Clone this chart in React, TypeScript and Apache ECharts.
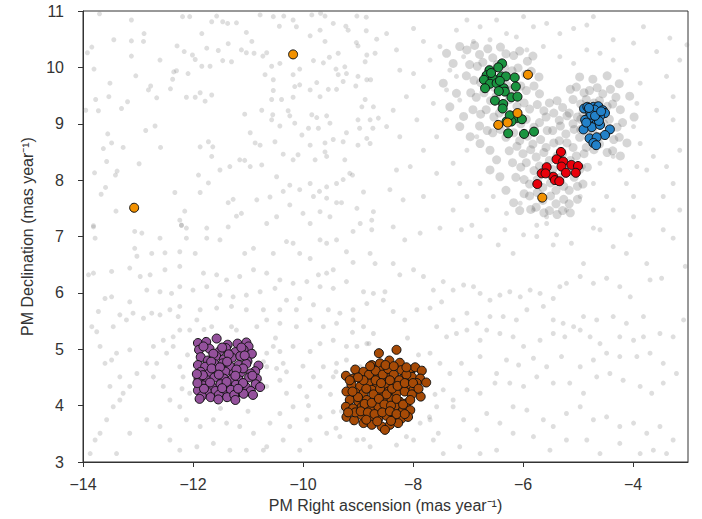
import React, { useEffect, useRef } from "react";
import * as echarts from "echarts";

// ---------- axis ticks ----------
const xTicks = [-14, -12, -10, -8, -6, -4];
const yTicks = [3, 4, 5, 6, 7, 8, 9, 10, 11];

// ---------- cluster members ----------
const purple: number[][] = [
  [-11.91, 5.11], [-11.76, 5.13], [-11.57, 5.19], [-11.37, 5.08], [-11.19, 5.10], [-11.03, 5.12], [-10.99, 5.05],
  [-11.89, 4.99], [-11.70, 5.01], [-11.52, 4.96], [-11.40, 5.02], [-11.23, 4.95], [-11.08, 4.99], [-10.93, 4.92],
  [-11.86, 4.86], [-11.73, 4.80], [-11.58, 4.88], [-11.44, 4.82], [-11.29, 4.85], [-11.14, 4.88], [-11.01, 4.79], [-10.81, 4.71],
  [-11.91, 4.72], [-11.78, 4.69], [-11.61, 4.74], [-11.46, 4.75], [-11.32, 4.69], [-11.17, 4.72], [-11.03, 4.74], [-10.87, 4.61],
  [-11.86, 4.60], [-11.71, 4.57], [-11.56, 4.62], [-11.41, 4.60], [-11.26, 4.57], [-11.13, 4.59], [-10.95, 4.57],
  [-11.90, 4.48], [-11.74, 4.45], [-11.61, 4.50], [-11.44, 4.48], [-11.29, 4.47], [-11.16, 4.45], [-10.98, 4.50], [-10.84, 4.48],
  [-11.82, 4.36], [-11.65, 4.33], [-11.50, 4.38], [-11.35, 4.33], [-11.22, 4.37], [-11.04, 4.33], [-10.86, 4.38],
  [-11.91, 4.27], [-11.74, 4.24], [-11.59, 4.26], [-11.44, 4.24], [-11.31, 4.28], [-11.14, 4.24], [-10.95, 4.26], [-10.78, 4.33],
  [-11.84, 4.17], [-11.68, 4.15], [-11.53, 4.19], [-11.38, 4.15], [-11.25, 4.19], [-11.08, 4.21], [-10.91, 4.19],
  [-11.88, 4.12], [-11.54, 4.11], [-11.23, 4.10],
  [-11.81, 5.05], [-11.47, 5.03], [-11.12, 5.03], [-11.63, 4.92], [-11.35, 4.91], [-11.06, 4.89], [-11.67, 4.78],
  [-11.38, 4.78], [-11.09, 4.66], [-11.66, 4.66], [-11.51, 4.68], [-11.21, 4.64], [-11.82, 4.54], [-11.53, 4.55],
  [-11.23, 4.53], [-10.92, 4.53], [-11.69, 4.41], [-11.39, 4.42], [-11.09, 4.40], [-11.80, 4.30], [-11.47, 4.31],
  [-11.18, 4.30], [-11.93, 4.56], [-11.92, 4.40],
];

const brown: number[][] = [
  [-8.62, 4.93], [-8.30, 4.99], [-8.75, 4.72], [-8.60, 4.75], [-8.43, 4.80], [-8.24, 4.76],
  [-9.05, 4.64], [-8.90, 4.60], [-8.72, 4.57], [-8.57, 4.62], [-8.39, 4.60], [-8.21, 4.63], [-8.05, 4.60], [-7.96, 4.68], [-7.84, 4.62],
  [-9.22, 4.53], [-9.09, 4.48], [-8.93, 4.45], [-8.78, 4.48], [-8.63, 4.48], [-8.48, 4.51], [-8.33, 4.50], [-8.18, 4.48], [-8.02, 4.51], [-7.87, 4.48], [-7.76, 4.41],
  [-9.12, 4.37], [-8.96, 4.34], [-8.81, 4.40], [-8.66, 4.34], [-8.51, 4.37], [-8.36, 4.40], [-8.21, 4.35], [-8.05, 4.37], [-7.93, 4.40],
  [-9.21, 4.25], [-9.05, 4.23], [-8.90, 4.22], [-8.75, 4.28], [-8.60, 4.23], [-8.45, 4.25], [-8.30, 4.22], [-8.15, 4.25], [-7.99, 4.28], [-7.86, 4.16],
  [-9.15, 4.10], [-8.99, 4.07], [-8.84, 4.10], [-8.69, 4.11], [-8.54, 4.09], [-8.39, 4.11], [-8.24, 4.07], [-8.12, 4.04],
  [-9.22, 3.98], [-9.09, 3.95], [-8.93, 3.98], [-8.78, 3.95], [-8.63, 3.98], [-8.48, 3.95], [-8.33, 3.98], [-8.18, 3.92], [-8.05, 3.92],
  [-9.21, 3.80], [-9.07, 3.74], [-8.93, 3.83], [-8.78, 3.80], [-8.63, 3.77], [-8.48, 3.82], [-8.33, 3.77], [-8.21, 3.77], [-8.09, 3.80],
  [-8.90, 3.69], [-8.75, 3.66], [-8.57, 3.63], [-8.42, 3.66], [-8.27, 3.69], [-8.51, 3.57],
  [-8.80, 4.55], [-8.68, 4.62], [-8.55, 4.55], [-8.45, 4.65], [-8.35, 4.55], [-8.25, 4.45], [-8.12, 4.55], [-8.85, 4.30],
  [-8.72, 4.20], [-8.60, 4.30], [-8.48, 4.20], [-8.38, 4.30], [-8.28, 4.35], [-8.15, 4.40], [-8.02, 4.20], [-9.00, 4.15],
  [-8.88, 4.03], [-8.75, 4.05], [-8.62, 4.12], [-8.52, 4.02], [-8.40, 4.00], [-8.30, 4.12], [-8.18, 4.02], [-9.10, 4.25],
  [-9.05, 3.88], [-8.95, 3.90], [-8.82, 3.88], [-8.70, 3.85], [-8.56, 3.88], [-8.42, 3.90], [-8.30, 3.85], [-8.15, 3.85],
  [-8.68, 4.45], [-8.58, 4.40], [-8.42, 4.45], [-8.90, 4.45], [-9.00, 4.50], [-8.78, 4.70], [-8.50, 4.72], [-8.35, 4.70],
  [-8.12, 4.68], [-8.00, 4.40], [-7.90, 4.30], [-8.65, 3.72], [-8.40, 3.73], [-8.85, 3.75], [-9.15, 4.45], [-9.18, 3.88], [-8.05, 4.10],
];

const green: number[][] = [
  [-6.38, 10.07], [-6.45, 10.00], [-6.61, 9.95], [-6.66, 9.86], [-6.71, 9.78], [-6.55, 9.81], [-6.39, 9.84],
  [-6.31, 9.84], [-6.15, 9.82], [-6.60, 9.71], [-6.69, 9.63], [-6.48, 9.72], [-6.35, 9.63], [-6.33, 9.57],
  [-6.13, 9.66], [-6.21, 9.47], [-6.10, 9.48], [-6.51, 9.41], [-6.36, 9.35], [-6.37, 9.27], [-6.21, 9.13],
  [-6.12, 9.10], [-6.02, 9.08], [-6.30, 9.04], [-6.21, 9.04], [-6.27, 8.83], [-5.98, 8.82], [-5.80, 8.86],
  [-6.58, 9.90], [-6.42, 9.76], [-6.44, 9.58], [-6.24, 9.15],
];

const blue: number[][] = [
  [-4.89, 9.27], [-4.83, 9.30], [-4.72, 9.30], [-4.63, 9.31], [-4.55, 9.24], [-4.51, 9.19], [-4.78, 9.21],
  [-4.66, 9.21], [-4.60, 9.13], [-4.81, 9.10], [-4.72, 9.10], [-4.87, 9.07], [-4.66, 9.01], [-4.84, 8.98],
  [-4.75, 8.94], [-4.90, 8.90], [-4.60, 8.98], [-4.42, 8.90], [-4.51, 8.80], [-4.79, 8.74], [-4.66, 8.76],
  [-4.72, 8.66], [-4.67, 8.62], [-4.70, 9.25], [-4.76, 9.16], [-4.62, 9.05], [-4.85, 9.02], [-4.69, 9.14],
  [-4.58, 9.22], [-4.80, 9.28],
];

const red: number[][] = [
  [-5.31, 8.50], [-5.39, 8.37], [-5.27, 8.33], [-5.30, 8.24], [-5.12, 8.27], [-5.00, 8.25], [-5.57, 8.23],
  [-5.66, 8.12], [-5.22, 8.13], [-5.04, 8.13], [-5.45, 8.06], [-5.42, 8.00], [-5.34, 7.98], [-5.74, 7.93],
  [-5.59, 8.12],
];

const orange: number[][] = [
  [-10.18, 10.23], [-13.07, 7.51], [-5.91, 9.87], [-6.10, 9.19], [-6.28, 9.02], [-6.45, 8.98], [-5.65, 7.69],
];

// ---------- field stars (grey) ----------
const grayNW: number[][] = [
  [-13.70, 10.95], [-13.12, 10.84], [-12.89, 10.60], [-13.44, 10.49], [-13.12, 10.47], [-12.90, 10.46], [-13.84, 10.36],
  [-13.92, 10.26], [-13.12, 10.20], [-12.60, 10.13], [-13.80, 9.97], [-13.04, 9.85], [-13.51, 9.72], [-12.77, 9.67],
  [-12.81, 9.60], [-13.77, 9.43], [-13.53, 9.48], [-13.19, 9.39], [-13.30, 9.27], [-12.66, 9.46], [-13.95, 9.24],
  [-13.72, 9.23], [-13.55, 8.82], [-13.48, 8.66], [-13.63, 8.56], [-13.27, 8.58], [-12.98, 8.29], [-13.57, 8.33],
  [-13.79, 8.13], [-13.41, 8.09], [-13.38, 8.16], [-12.59, 8.58], [-12.69, 8.96], [-12.86, 8.88], [-13.59, 7.87],
  [-13.67, 7.75], [-13.40, 7.45], [-13.81, 7.19], [-12.33, 7.78], [-12.15, 7.45], [-12.21, 7.20], [-12.30, 9.94],
  [-12.35, 9.92], [-12.37, 9.79], [-12.41, 9.62], [-12.29, 10.38], [-12.16, 10.28], [-12.09, 9.89], [-12.01, 10.22],
  [-11.96, 10.14], [-12.12, 9.47], [-11.96, 9.47], [-11.87, 9.55], [-11.78, 9.40], [-11.66, 9.51], [-11.84, 10.02],
  [-11.75, 10.34], [-11.69, 10.02], [-11.54, 10.30], [-11.36, 10.42], [-11.46, 10.12], [-11.30, 10.10], [-11.12, 10.31],
  [-11.03, 10.26], [-10.89, 10.25], [-10.73, 10.20], [-10.66, 10.26], [-11.37, 10.78], [-11.46, 10.81], [-11.66, 10.81],
  [-11.84, 10.60], [-11.57, 10.91], [-12.06, 10.90], [-12.19, 10.90], [-11.21, 10.79], [-10.93, 10.46], [-11.03, 10.62],
  [-10.78, 10.93], [-10.54, 10.90], [-10.35, 10.91], [-10.43, 10.73], [-10.18, 10.84], [-10.12, 10.72], [-9.84, 10.93],
  [-9.68, 10.96], [-9.60, 10.91], [-9.45, 10.78], [-9.22, 10.73], [-9.02, 10.91], [-8.85, 10.89], [-8.85, 10.65],
  [-9.18, 10.66], [-9.69, 10.66], [-9.87, 10.56], [-9.60, 10.46], [-9.52, 10.18], [-9.36, 10.25], [-9.03, 10.44],
  [-9.00, 10.38], [-8.84, 10.22], [-8.69, 10.25], [-8.66, 10.50], [-8.87, 10.10], [-9.24, 10.01], [-9.40, 9.97],
  [-9.63, 10.08], [-9.81, 10.12], [-10.06, 9.97], [-10.18, 9.87], [-10.42, 10.07], [-10.57, 10.02], [-10.69, 9.87],
  [-10.54, 9.78], [-10.54, 9.59], [-10.39, 9.43], [-10.57, 9.43], [-10.18, 9.47], [-10.15, 9.66], [-10.06, 9.69],
  [-9.87, 9.60], [-9.75, 9.73], [-9.69, 9.48], [-9.54, 9.61], [-9.39, 9.61], [-9.27, 9.75], [-9.36, 9.87],
  [-9.21, 9.89], [-9.00, 9.84], [-8.84, 9.78], [-9.04, 9.67], [-8.77, 9.78], [-8.87, 9.43], [-8.93, 9.30],
  [-8.72, 9.30], [-8.63, 9.10], [-8.78, 9.07], [-9.00, 9.07], [-8.97, 8.92], [-8.73, 8.92], [-8.84, 8.74],
  [-8.78, 8.65], [-9.00, 8.62], [-9.21, 8.84], [-9.27, 8.68], [-9.51, 9.01], [-9.57, 9.14], [-9.75, 9.11],
  [-9.84, 9.16], [-9.72, 8.92], [-9.90, 8.92], [-10.02, 8.80], [-10.15, 9.01], [-10.24, 9.14], [-10.27, 9.23],
  [-10.42, 8.96], [-10.55, 9.16], [-10.57, 9.07], [-10.75, 9.24], [-10.96, 8.84], [-11.06, 9.17], [-10.87, 8.66],
  [-10.78, 8.62], [-10.51, 8.68], [-10.36, 8.46], [-10.18, 8.36], [-10.09, 8.45], [-9.87, 8.62], [-9.78, 8.36],
  [-9.60, 8.66], [-9.60, 8.50], [-9.57, 8.42], [-9.45, 8.72], [-9.24, 8.36], [-9.15, 8.12], [-9.10, 8.09],
  [-9.27, 8.01], [-9.39, 7.94], [-9.57, 7.88], [-9.70, 7.80], [-9.87, 7.94], [-10.06, 7.83], [-10.24, 7.91],
  [-10.48, 8.06], [-10.75, 8.27], [-10.96, 8.24], [-11.15, 8.36], [-11.06, 8.35], [-11.33, 8.24], [-11.51, 8.18],
  [-11.66, 8.42], [-11.64, 8.59], [-11.72, 8.68], [-11.87, 8.59], [-11.90, 8.09], [-11.72, 7.95], [-11.87, 7.78],
  [-11.36, 7.60], [-11.27, 7.66], [-11.12, 7.41], [-11.21, 7.36], [-10.84, 7.65], [-10.60, 7.70], [-10.36, 7.80],
  [-10.24, 7.56], [-9.81, 7.71], [-9.57, 7.68], [-9.39, 7.60], [-9.30, 7.60], [-9.02, 7.50], [-8.90, 7.79],
  [-8.72, 7.44], [-8.75, 7.29], [-8.96, 7.23], [-9.51, 7.35], [-9.69, 7.44], [-9.87, 7.23], [-10.00, 7.41],
  [-10.48, 7.35], [-10.66, 7.23], [-11.36, 7.17], [-11.75, 7.15], [-12.12, 7.15], [-12.24, 7.29],
];

const graySW: number[][] = [
  [-13.81, 7.17], [-13.78, 6.97], [-13.06, 7.09], [-12.93, 7.06], [-12.60, 6.97], [-13.06, 6.79], [-13.02, 6.65],
  [-12.75, 6.70], [-12.51, 6.71], [-12.24, 6.73], [-11.96, 6.70], [-12.21, 7.20], [-12.12, 6.97], [-11.75, 6.97],
  [-11.51, 6.94], [-11.06, 6.70], [-10.90, 6.79], [-10.54, 6.70], [-10.30, 6.91], [-10.18, 6.88], [-10.06, 6.70],
  [-9.87, 6.61], [-9.69, 6.94], [-9.57, 6.88], [-9.39, 6.94], [-9.21, 6.73], [-9.09, 6.54], [-8.78, 6.70],
  [-8.69, 6.52], [-8.75, 7.12], [-9.09, 7.09], [-9.45, 6.41], [-9.57, 6.35], [-9.72, 6.32], [-9.93, 6.20],
  [-10.18, 6.17], [-10.42, 6.23], [-10.66, 6.35], [-10.90, 6.41], [-11.15, 6.29], [-11.39, 6.23], [-11.57, 6.32],
  [-11.81, 6.35], [-12.24, 6.47], [-12.51, 6.41], [-12.78, 6.32], [-12.96, 6.29], [-13.15, 6.44], [-13.48, 6.38],
  [-13.90, 6.32], [-13.81, 6.35], [-13.60, 5.90], [-13.48, 5.93], [-13.15, 5.84], [-12.84, 6.05], [-12.60, 6.02],
  [-12.39, 5.99], [-12.24, 6.11], [-12.00, 6.05], [-11.75, 6.11], [-11.51, 5.96], [-11.27, 5.93], [-11.03, 5.96],
  [-10.78, 6.02], [-10.51, 6.08], [-10.30, 5.87], [-10.06, 5.90], [-9.69, 6.11], [-9.45, 6.08], [-9.21, 6.20],
  [-8.90, 6.02], [-8.72, 5.99], [-8.84, 5.81], [-9.09, 5.70], [-9.33, 5.64], [-9.54, 5.70], [-9.81, 5.79],
  [-10.12, 5.70], [-10.42, 5.70], [-10.72, 5.70], [-11.03, 5.70], [-11.30, 5.76], [-11.57, 5.73], [-11.87, 5.70],
  [-12.24, 5.76], [-12.42, 5.70], [-12.75, 5.64], [-13.09, 5.64], [-13.33, 5.61], [-13.72, 5.67], [-13.84, 5.40],
  [-13.75, 5.31], [-13.45, 5.40], [-13.21, 5.52], [-12.90, 5.55], [-12.60, 5.61], [-12.27, 5.58], [-11.93, 5.52],
  [-11.66, 5.40], [-11.21, 5.34], [-10.84, 5.40], [-10.66, 5.52], [-10.42, 5.46], [-10.12, 5.40], [-9.87, 5.52],
  [-9.63, 5.40], [-9.39, 5.46], [-9.09, 5.52], [-8.90, 5.40], [-8.72, 5.28], [-8.84, 5.10], [-9.02, 5.05],
  [-9.21, 5.05], [-9.45, 5.16], [-9.69, 5.10], [-9.87, 4.96], [-10.18, 5.05], [-10.42, 4.96], [-10.54, 5.05],
  [-10.66, 4.93], [-10.72, 4.78], [-10.78, 4.45], [-10.66, 4.34], [-10.42, 4.45], [-10.30, 4.22], [-10.06, 4.34],
  [-9.81, 4.51], [-9.63, 4.69], [-9.39, 4.75], [-9.21, 4.81], [-8.96, 4.69], [-9.45, 4.51], [-9.69, 4.34],
  [-9.93, 4.16], [-10.18, 3.98], [-10.42, 3.86], [-10.60, 3.69], [-10.24, 3.63], [-9.93, 3.75], [-9.69, 3.80],
  [-9.45, 3.89], [-9.21, 3.98], [-8.96, 3.80], [-8.72, 3.63], [-8.78, 3.27], [-9.02, 3.39], [-9.33, 3.45],
  [-9.57, 3.51], [-9.87, 3.39], [-10.06, 3.21], [-10.36, 3.39], [-10.66, 3.27], [-10.90, 3.51], [-11.15, 3.63],
  [-11.39, 3.69], [-11.63, 3.75], [-11.87, 3.63], [-12.12, 3.75], [-12.24, 3.98], [-12.42, 4.10], [-12.54, 4.34],
  [-12.72, 4.51], [-12.84, 4.75], [-13.02, 4.57], [-13.15, 4.34], [-13.27, 4.22], [-13.45, 3.98], [-13.57, 3.75],
  [-13.69, 3.51], [-13.78, 3.39], [-13.87, 3.15], [-13.39, 3.15], [-13.15, 3.51], [-12.84, 3.75], [-12.60, 3.63],
  [-12.42, 3.39], [-12.24, 3.21], [-11.93, 3.27], [-11.63, 3.33], [-11.33, 3.21], [-11.03, 3.21], [-10.72, 3.21],
  [-13.33, 4.51], [-13.48, 4.81], [-13.60, 4.75], [-13.51, 4.34], [-13.33, 4.10], [-12.66, 4.75], [-12.48, 4.93],
  [-12.36, 5.05], [-12.24, 4.69], [-12.18, 4.51], [-12.06, 4.22], [-10.66, 4.69], [-10.48, 4.66], [-10.36, 4.75],
  [-10.30, 4.60], [-12.24, 5.34], [-12.06, 5.34], [-12.36, 5.22], [-12.54, 5.16], [-12.72, 5.05], [-13.15, 4.99],
  [-13.39, 4.93], [-13.69, 5.05], [-12.10, 4.90], [-12.20, 4.30], [-11.00, 3.90], [-11.50, 3.95], [-10.90, 4.90],
  [-11.80, 5.35], [-11.30, 5.40], [-10.50, 5.20], [-10.00, 4.70], [-9.90, 4.00], [-9.50, 4.20], [-9.40, 3.60],
];

const graySE: number[][] = [
  [-8.36, 7.17], [-8.15, 6.94], [-7.87, 7.06], [-7.51, 7.15], [-7.12, 7.12], [-6.93, 7.20], [-6.78, 7.00],
  [-6.45, 6.85], [-6.33, 7.12], [-6.18, 6.70], [-5.99, 7.03], [-5.75, 7.00], [-5.75, 7.20], [-5.57, 7.23],
  [-5.45, 6.85], [-5.39, 7.03], [-5.12, 6.88], [-4.90, 6.52], [-4.72, 7.15], [-4.60, 7.12], [-4.36, 6.82],
  [-4.12, 6.70], [-4.05, 7.03], [-3.75, 6.52], [-3.45, 7.12], [-3.27, 6.97], [-3.05, 6.47], [-3.69, 6.23],
  [-3.48, 6.26], [-4.05, 5.93], [-4.24, 6.11], [-4.48, 6.26], [-4.72, 6.17], [-4.96, 6.29], [-5.21, 6.17],
  [-5.33, 6.11], [-5.45, 5.90], [-5.69, 5.99], [-5.87, 6.05], [-6.05, 5.93], [-6.24, 6.02], [-6.42, 5.96],
  [-6.60, 5.87], [-6.78, 5.99], [-6.90, 6.11], [-7.08, 6.14], [-7.27, 6.05], [-7.45, 6.20], [-7.63, 6.05],
  [-7.81, 6.29], [-7.99, 6.41], [-8.24, 6.32], [-8.36, 6.52], [-8.51, 6.02], [-8.54, 5.87], [-8.36, 5.67],
  [-8.15, 5.52], [-7.93, 5.70], [-7.69, 5.73], [-7.48, 5.84], [-7.27, 5.52], [-7.02, 5.64], [-6.84, 5.46],
  [-6.60, 5.58], [-6.36, 5.58], [-6.12, 5.52], [-5.93, 5.70], [-5.63, 5.76], [-5.45, 5.52], [-5.27, 5.46],
  [-5.08, 5.40], [-4.90, 5.58], [-4.66, 5.52], [-4.36, 5.58], [-4.12, 5.46], [-3.81, 5.58], [-3.51, 5.28],
  [-3.27, 5.22], [-3.08, 5.52], [-3.81, 5.22], [-3.99, 5.16], [-4.24, 5.22], [-4.60, 5.10], [-4.78, 5.22],
  [-4.96, 5.34], [-5.24, 5.22], [-5.45, 5.28], [-5.69, 5.16], [-5.99, 5.05], [-6.18, 5.22], [-6.42, 5.28],
  [-6.66, 5.34], [-6.78, 5.16], [-7.02, 5.34], [-7.21, 5.28], [-7.39, 5.22], [-7.57, 5.40], [-7.69, 4.93],
  [-7.51, 4.75], [-7.33, 4.57], [-7.12, 4.75], [-6.96, 4.57], [-6.78, 4.87], [-6.48, 4.57], [-6.30, 4.81],
  [-6.08, 4.72], [-5.81, 4.84], [-5.57, 4.69], [-5.30, 4.87], [-4.96, 4.69], [-4.72, 4.81], [-4.48, 4.93],
  [-4.24, 4.87], [-3.93, 4.87], [-3.69, 4.93], [-3.45, 4.75], [-3.21, 4.57], [-3.45, 4.40], [-3.66, 4.22],
  [-3.87, 4.34], [-4.18, 4.45], [-4.42, 4.57], [-4.66, 4.51], [-4.90, 4.22], [-5.15, 4.40], [-5.45, 4.40],
  [-5.75, 4.51], [-5.99, 4.34], [-6.24, 4.40], [-6.51, 4.40], [-6.78, 4.22], [-7.02, 4.28], [-7.27, 4.10],
  [-7.45, 4.28], [-7.57, 3.98], [-7.69, 3.75], [-7.54, 3.51], [-7.27, 3.98], [-7.08, 3.75], [-6.84, 3.57],
  [-6.66, 3.86], [-6.42, 3.69], [-6.18, 3.98], [-5.93, 3.92], [-5.63, 3.75], [-5.45, 3.63], [-5.21, 3.86],
  [-4.96, 3.98], [-4.72, 3.75], [-4.48, 3.80], [-4.24, 3.63], [-3.99, 3.69], [-3.75, 3.51], [-3.51, 3.63],
  [-3.27, 3.39], [-3.39, 3.15], [-3.63, 3.21], [-3.87, 3.15], [-4.24, 3.33], [-4.60, 3.15], [-4.84, 3.39],
  [-5.21, 3.39], [-5.51, 3.21], [-5.81, 3.45], [-6.18, 3.51], [-6.48, 3.21], [-6.78, 3.15], [-7.15, 3.27],
  [-7.45, 3.15], [-7.99, 3.39], [-7.87, 3.69], [-8.12, 3.45], [-7.63, 3.39], [-9.40, 4.60], [-9.30, 3.90],
  [-7.60, 4.20], [-7.70, 3.80], [-8.90, 3.40], [-8.30, 3.30], [-7.90, 4.90], [-8.80, 5.10], [-8.10, 5.20], [-9.10, 5.30],
];

const grayNE: number[][] = [
  [-8.48, 10.60], [-8.30, 10.31], [-7.99, 10.69], [-7.81, 10.46], [-8.24, 9.95], [-7.99, 9.89], [-7.69, 10.13],
  [-7.81, 9.66], [-8.12, 9.48], [-8.36, 9.24], [-8.48, 8.95], [-8.24, 8.77], [-7.93, 9.07], [-7.63, 9.36],
  [-7.39, 9.60], [-7.33, 9.95], [-7.51, 10.37], [-7.21, 10.66], [-7.02, 10.84], [-6.78, 10.72], [-6.48, 10.84],
  [-5.99, 10.90], [-5.81, 10.72], [-5.57, 10.78], [-5.33, 10.60], [-5.08, 10.69], [-4.84, 10.75], [-4.72, 10.90],
  [-4.36, 10.49], [-3.99, 10.43], [-3.81, 10.72], [-3.57, 10.28], [-3.33, 10.52], [-3.15, 10.13], [-3.02, 10.40],
  [-3.39, 9.84], [-3.27, 9.48], [-3.57, 9.24], [-3.27, 9.07], [-3.15, 8.53], [-3.39, 8.24], [-3.63, 8.42],
  [-3.75, 8.18], [-3.45, 7.71], [-3.15, 7.47], [-3.63, 7.47], [-3.99, 7.35], [-4.36, 7.47], [-4.48, 7.71],
  [-4.12, 7.94], [-3.93, 8.24], [-3.87, 8.65], [-3.99, 8.95], [-3.93, 9.36], [-3.87, 9.72], [-4.12, 9.95],
  [-4.36, 10.13], [-4.60, 10.25], [-4.84, 10.31], [-5.08, 10.07], [-5.33, 10.19], [-5.63, 10.37], [-5.93, 10.31],
  [-6.12, 10.54], [-6.30, 10.60], [-6.60, 10.49], [-6.90, 10.46], [-7.08, 10.19], [-7.21, 9.84], [-7.15, 9.42],
  [-7.39, 9.07], [-7.57, 8.77], [-7.81, 8.53], [-8.05, 8.24], [-8.30, 8.18], [-8.42, 7.83], [-8.18, 7.65],
  [-7.81, 7.71], [-7.57, 8.12], [-7.27, 8.30], [-7.02, 8.53], [-6.84, 8.77], [-6.78, 7.94], [-7.02, 7.71],
  [-7.27, 7.47], [-6.66, 7.47], [-6.30, 7.41], [-6.05, 7.59], [-5.81, 7.47], [-5.57, 7.35], [-5.21, 7.47],
  [-4.96, 7.71], [-4.72, 7.94], [-4.90, 8.24], [-4.60, 8.30], [-4.36, 8.42], [-4.24, 8.18], [-4.72, 7.47],
  [-3.27, 7.94], [-3.99, 7.71], [-7.15, 7.94], [-6.54, 7.71],
];

const grayCloud: number[][] = [
  [-7.02, 10.31], [-6.88, 10.39], [-6.79, 10.23], [-6.64, 10.33], [-6.55, 10.17], [-6.41, 10.36], [-6.31, 10.24],
  [-6.17, 10.21], [-6.06, 10.29], [-5.92, 10.11], [-5.82, 10.20], [-6.97, 10.05], [-6.83, 10.02], [-6.73, 10.09],
  [-6.61, 9.97], [-6.47, 10.05], [-6.34, 10.00], [-6.20, 9.94], [-6.09, 9.99], [-5.95, 9.88], [-5.85, 9.93],
  [-5.71, 9.83], [-7.03, 9.85], [-6.89, 9.77], [-6.77, 9.73], [-6.67, 9.85], [-6.53, 9.65], [-6.43, 9.76],
  [-6.29, 9.68], [-6.19, 9.61], [-6.04, 9.67], [-5.94, 9.59], [-5.80, 9.67], [-5.70, 9.53], [-6.95, 9.55],
  [-6.85, 9.47], [-6.71, 9.55], [-6.59, 9.41], [-6.49, 9.49], [-6.35, 9.35], [-6.25, 9.43], [-6.11, 9.31],
  [-5.98, 9.37], [-5.88, 9.26], [-5.74, 9.34], [-5.62, 9.23], [-6.91, 9.25], [-6.77, 9.17], [-6.67, 9.25],
  [-6.53, 9.12], [-6.43, 9.19], [-6.29, 9.06], [-6.19, 9.14], [-6.04, 9.00], [-5.94, 9.08], [-5.80, 8.94],
  [-5.70, 9.02], [-5.56, 8.88], [-6.79, 8.96], [-6.65, 8.88], [-6.55, 8.84], [-6.41, 8.90], [-6.31, 8.76],
  [-6.17, 8.84], [-6.06, 8.70], [-5.92, 8.78], [-5.82, 8.64], [-5.68, 8.72], [-5.58, 8.58], [-5.44, 8.66],
  [-6.25, 8.52], [-6.11, 8.60], [-6.00, 8.47], [-5.86, 8.54], [-5.76, 8.41], [-5.62, 8.49], [-5.52, 8.35],
  [-5.38, 8.43], [-5.28, 8.47], [-5.14, 8.35], [-5.03, 8.43], [-4.89, 8.47], [-6.19, 8.31], [-6.04, 8.23],
  [-5.94, 8.31], [-5.80, 8.17], [-5.70, 8.25], [-5.56, 8.11], [-5.46, 8.19], [-5.32, 8.05], [-5.22, 8.13],
  [-5.07, 8.05], [-4.97, 8.19], [-4.83, 8.23], [-6.13, 8.05], [-5.98, 8.01], [-5.88, 7.93], [-5.74, 8.01],
  [-5.64, 7.87], [-5.50, 7.95], [-5.40, 7.82], [-5.26, 7.89], [-5.16, 7.82], [-5.01, 7.89], [-4.91, 7.93],
  [-5.98, 7.76], [-5.88, 7.72], [-5.74, 7.78], [-5.64, 7.64], [-5.50, 7.72], [-5.40, 7.58], [-5.26, 7.66],
  [-5.16, 7.58], [-5.01, 7.66], [-5.86, 7.48], [-5.76, 7.52], [-5.62, 7.42], [-5.52, 7.46], [-5.38, 7.39],
  [-5.28, 7.46], [-5.14, 7.42], [-6.31, 7.82], [-6.17, 7.60], [-6.06, 7.46],
  [-5.58, 9.12], [-5.44, 9.19], [-5.34, 9.06], [-5.20, 9.14], [-5.09, 9.00], [-4.95, 9.08], [-5.46, 8.88],
  [-5.32, 8.96], [-5.22, 8.82], [-5.07, 8.90], [-4.97, 8.76], [-4.83, 8.84], [-5.34, 8.70], [-5.20, 8.66],
  [-5.09, 8.58], [-5.52, 9.37], [-5.38, 9.41], [-5.28, 9.29],
  [-5.14, 9.61], [-5.03, 9.65], [-4.89, 9.55], [-4.79, 9.59], [-4.65, 9.64], [-4.55, 9.53], [-4.41, 9.61],
  [-4.31, 9.47], [-5.09, 9.43], [-4.95, 9.35], [-4.85, 9.43], [-4.71, 9.37], [-4.61, 9.41], [-4.47, 9.31],
  [-4.37, 9.35], [-4.23, 9.25], [-5.16, 9.19], [-5.01, 9.12], [-4.91, 9.19], [-4.77, 9.06], [-4.67, 9.14],
  [-4.53, 9.00], [-4.43, 9.08], [-4.29, 8.94], [-4.19, 9.02], [-4.95, 8.90], [-4.73, 8.88], [-4.59, 8.78],
  [-4.49, 8.82], [-4.35, 8.72], [-4.25, 8.76], [-4.11, 8.66], [-4.85, 8.58], [-4.71, 8.54], [-4.61, 8.64],
  [-4.47, 8.49], [-4.37, 8.52], [-4.23, 8.43], [-4.97, 9.83], [-4.73, 9.79], [-4.47, 9.85], [-4.25, 9.71],
  [-4.06, 9.49], [-3.98, 9.12],
  [-7.39, 10.25], [-7.27, 10.07], [-7.15, 10.37], [-7.21, 9.54], [-7.33, 9.30], [-7.08, 9.13], [-7.45, 9.72],
  [-7.15, 8.95], [-6.96, 8.77], [-6.78, 8.65], [-6.60, 8.53], [-6.48, 8.36], [-6.42, 8.06], [-6.60, 8.18],
];

const grayAll = [...grayNW, ...graySW, ...graySE, ...grayNE];

const FONT = "'Liberation Sans', Arial, Helvetica, sans-serif";
const TEXT = "#333";
const minus = (v: number) => (v < 0 ? "\u2212" + Math.abs(v) : String(v));

function clusterSeries(data: number[][], color: string) {
  return {
    type: "scatter",
    data,
    symbol: "circle",
    symbolSize: 9,
    itemStyle: { color, borderColor: "#111", borderWidth: 1, opacity: 1 },
    z: 5,
  };
}

export default function App() {
  const ref = useRef<HTMLDivElement>(null);
  useEffect(() => {
    if (!ref.current) return;
    const chart = echarts.init(ref.current, null, { renderer: "svg" });
    const axisCommon = {
      type: "value" as const,
      splitLine: { show: false },
      axisLine: { show: true, onZero: false, lineStyle: { color: TEXT, width: 1 } },
      axisTick: { show: true, inside: false, length: 5, lineStyle: { color: TEXT } },
    };
    chart.setOption({
      animation: false,
      backgroundColor: "#fff",
      grid: { left: 83, right: 14, top: 11, bottom: 57, show: true, borderColor: TEXT, borderWidth: 1, backgroundColor: "transparent" },
      xAxis: {
        ...axisCommon,
        min: -14,
        max: -3,
        interval: 2,
        axisTick: { ...axisCommon.axisTick, customValues: xTicks },
        axisLabel: { customValues: xTicks, formatter: minus, color: TEXT, fontSize: 16, fontFamily: FONT, margin: 14 },
        name: "PM Right ascension (mas year\u207B\u00B9)",
        nameLocation: "middle",
        nameGap: 35,
        nameTextStyle: { color: TEXT, fontSize: 16, fontFamily: FONT },
      },
      yAxis: {
        ...axisCommon,
        min: 3,
        max: 11,
        interval: 1,
        axisTick: { ...axisCommon.axisTick, customValues: yTicks },
        axisLabel: { customValues: yTicks, formatter: minus, color: TEXT, fontSize: 16, fontFamily: FONT, margin: 19 },
        name: "PM Declination (mas year\u207B\u00B9)",
        nameLocation: "middle",
        nameGap: 42,
        nameTextStyle: { color: TEXT, fontSize: 16, fontFamily: FONT },
      },
      series: [
        { type: "scatter", data: grayCloud, symbolSize: 9, itemStyle: { color: "#555", opacity: 0.24 }, z: 1, silent: true },
        { type: "scatter", data: grayAll, symbolSize: 5, itemStyle: { color: "#808080", opacity: 0.26 }, z: 2, silent: true },
        clusterSeries(brown, "#a64a06"),
        clusterSeries(purple, "#94519c"),
        clusterSeries(green, "#1a9440"),
        clusterSeries(blue, "#2381c8"),
        clusterSeries(red, "#e8000b"),
        clusterSeries(orange, "#f29100"),
      ],
    });
    return () => chart.dispose();
  }, []);
  return (
    <div
      ref={ref}
      style={{ position: "absolute", left: 0, top: 0, width: 702, height: 519, background: "#fff" }}
    />
  );
}
